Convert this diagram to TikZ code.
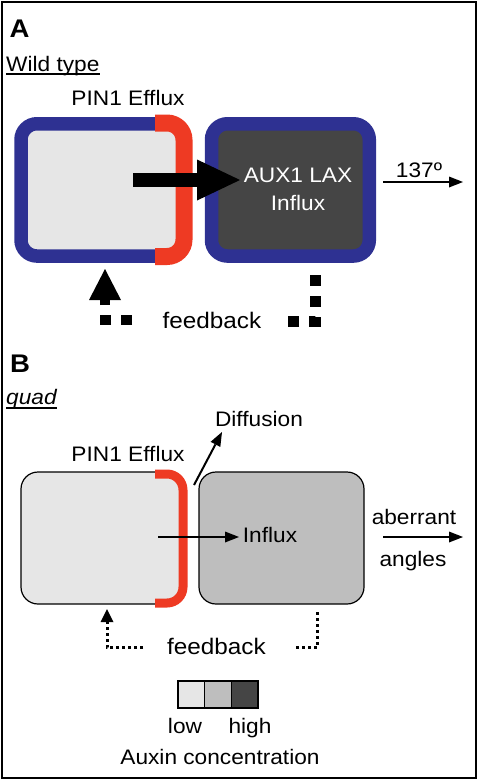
\documentclass[tikz,border=0pt]{standalone}
\usepackage{fontspec}
\setmainfont{Liberation Sans}[FakeStretch=1.08]
\usetikzlibrary{arrows.meta}
\definecolor{pinblue}{HTML}{2E3192}
\definecolor{pinred}{HTML}{EE3A23}
\definecolor{lowc}{HTML}{E6E6E6}
\definecolor{midc}{HTML}{BEBEBE}
\definecolor{highc}{HTML}{454545}
\begin{document}
\begin{tikzpicture}[x=1pt,y=-1pt,
  txt/.style={inner sep=0pt, anchor=base, font=\fontsize{21}{25}\selectfont},
  fbtxt/.style={txt, font=\fontsize{22.5}{27}\selectfont},
  paneltxt/.style={txt, font=\fontsize{25.5}{30}\selectfont\bfseries},
  wtcell/.style={draw=pinblue, line width=13.5pt, rounded corners=16pt, inner sep=0pt},
  qcell/.style={draw=black, line width=1.2pt, rounded corners=17pt, inner sep=0pt},
  pinA/.style={draw=pinred, line width=17pt, rounded corners=17pt},
  pinB/.style={draw=pinred, line width=9pt, rounded corners=16pt},
  fatarrow/.style={line width=14pt, -{Triangle[length=43pt,width=41pt,line width=0pt]}},
  thinarrow/.style={line width=2.2pt, -{Triangle[length=14pt,width=11pt,line width=0pt]}},
  fbfat/.style={line width=10pt, line join=miter, dash pattern=on 11pt off 10pt},
  fbthin/.style={line width=3pt, dash pattern=on 3pt off 3pt},
  legbox/.style={draw, line width=1.2pt, minimum width=26.7pt, minimum height=27pt, inner sep=0pt},
  uline/.style={line width=1.3pt}
]
\useasboundingbox (0,0) rectangle (477,779);
\draw[line width=2pt] (1.5,1.5) rectangle (475.5,777.5);

% ---------- Panel A ----------
\node[paneltxt] (pA) at (19.5,37) {A};
\node[txt, anchor=base west] (wt) at (6,71.5) {Wild type};
\draw[uline] ([yshift=-2.5pt]wt.base west) -- ([yshift=-2.5pt]wt.base east);
\node[txt] (pinAtxt) at (128,105) {PIN1 Efflux};

\node[wtcell, fill=lowc, minimum width=164pt, minimum height=132.3pt] (leftA) at (103,189.9) {};
\draw[pinA] (155,123) -- (184,123) -- (184,256.5) -- (155,256.5);
\node[wtcell, fill=highc, minimum width=157.8pt, minimum height=132.3pt] (rightA) at (290.4,189.9) {};
\node[txt, white] (auxA) at (298,182) {AUX1 LAX};
\node[txt, white] (influxA) at (298,210) {Influx};

\coordinate (bigs) at (133,180);
\coordinate (bige) at (240,180);
\draw[fatarrow] (bigs) -- (bige);

\node[txt] (degA) at (419,177) {137º};
\coordinate (degs) at (383,182);
\coordinate (dege) at (463,182);
\draw[thinarrow] (degs) -- (dege);

\node[fbtxt] (fbA) at (212,328) {feedback};
\coordinate (fbA1s) at (132,320);
\coordinate (fbA1e) at (105,269);
\draw[fbfat] (fbA1s) -- (105,320) -- (105,300);
\fill (fbA1e) -- ++(16,31) -- ++(-32,0) -- cycle;
\coordinate (fbA2s) at (315.5,275);
\coordinate (fbA2e) at (288,321.5);
\draw[fbfat, line width=11pt] (fbA2s) |- (fbA2e);

% ---------- Panel B ----------
\node[paneltxt] (pB) at (20,372) {B};
\node[txt, anchor=base west, font=\fontsize{21}{25}\selectfont\itshape] (qd) at (6,404.5) {quad};
\draw[uline] ([yshift=-3.5pt]qd.base west) -- ([yshift=-3.5pt]qd.base east);

\node[txt] (diff) at (259,426) {Diffusion};
\node[txt] (pinBtxt) at (128,461) {PIN1 Efflux};

\node[qcell, fill=lowc, minimum width=163pt, minimum height=132pt] (leftB) at (102.5,538) {};
\node[qcell, fill=midc, minimum width=165pt, minimum height=132pt] (rightB) at (281.5,538) {};
\draw[pinB] (155,474) -- (183,474) -- (183,603) -- (155,603);

\coordinate (diffs) at (194,485);
\coordinate (diffe) at (222,432);
\draw[thinarrow, line width=2pt] (diffs) -- (diffe);

\node[txt] (influxB) at (270,542) {Influx};
\coordinate (infs) at (158,537);
\coordinate (infe) at (239,537);
\draw[thinarrow, line width=2pt] (infs) -- (infe);

\node[txt] (ab1) at (414,524) {aberrant};
\node[txt] (ab2) at (413,566) {angles};
\coordinate (abs) at (383,537);
\coordinate (abe) at (463,537);
\draw[thinarrow] (abs) -- (abe);

\node[fbtxt] (fbB) at (216.5,654) {feedback};
\coordinate (fbB1s) at (143,647.5);
\coordinate (fbB1e) at (107,609);
\draw[fbthin] (fbB1s) -- (107,647.5) -- (107,621);
\fill (fbB1e) -- ++(6.5,13) -- ++(-13,0) -- cycle;
\coordinate (fbB2s) at (317,612);
\coordinate (fbB2e) at (294,647.5);
\draw[fbthin] (fbB2s) |- (fbB2e);

% ---------- Legend ----------
\node[legbox, fill=lowc] (lg1) at (191.3,694.5) {};
\node[legbox, fill=midc] (lg2) at (218,694.5) {};
\node[legbox, fill=highc] (lg3) at (244.7,694.5) {};
\node[txt] (low) at (185,733) {low};
\node[txt] (high) at (250,733) {high};
\node[txt] (auxc) at (220,764) {Auxin concentration};
\end{tikzpicture}
\end{document}
